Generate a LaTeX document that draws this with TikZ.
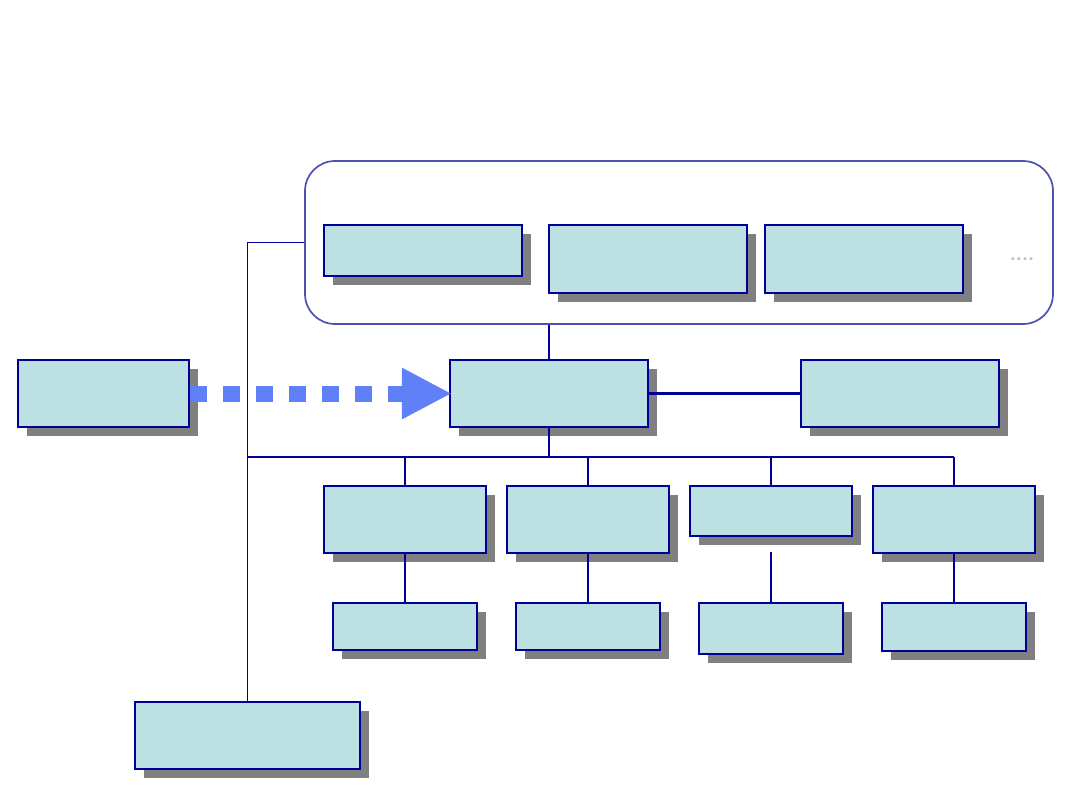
\documentclass[tikz,border=0pt]{standalone}
\usetikzlibrary{shadows,arrows.meta}
\definecolor{boxfill}{RGB}{189,225,227}
\definecolor{boxline}{RGB}{0,0,153}
\definecolor{shadowgray}{RGB}{128,128,128}
\definecolor{grpline}{RGB}{80,80,180}
\definecolor{arrowblue}{RGB}{96,128,248}
\definecolor{dotgray}{RGB}{190,190,190}
\tikzset{
  box/.style={draw=boxline, fill=boxfill, line width=1.25pt, inner sep=0pt, rectangle,
    drop shadow={shadow xshift=4.5pt, shadow yshift=-4.5pt, fill=shadowgray, opacity=1}},
  conn/.style={draw=boxline, line width=0.75pt},
  thickconn/.style={draw=boxline, line width=1.25pt},
  grp/.style={draw=grpline, line width=0.85pt, rounded corners=15pt, inner sep=0pt, rectangle},
  flow/.style={draw=arrowblue, line width=8pt, line cap=butt, dash pattern=on 8.25pt off 8.25pt,
    shorten >=-1.5pt, -{Triangle[length=25pt, width=24pt, fill=arrowblue]}}
}
\begin{document}
\begin{tikzpicture}[x=0.5pt, y=-0.5pt]
\useasboundingbox (0,0) rectangle (1080,810);
% group frame
\node[grp, minimum width=374pt, minimum height=81.5pt] (group) at (679,242.5) {};
% top row
\node[box, minimum width=99pt, minimum height=25.5pt] (A1) at (423,250.5) {};
\node[box, minimum width=99pt, minimum height=34pt] (A2) at (648,259) {};
\node[box, minimum width=99pt, minimum height=34pt] (A3) at (864,259) {};
\node[text=dotgray, font=\sffamily\bfseries, inner sep=0pt] (dots) at (1022,259) {....};
% middle row
\node[box, minimum width=85.5pt, minimum height=33.5pt] (L) at (103.5,393.5) {};
\node[box, minimum width=99pt, minimum height=33.5pt] (C) at (549,393.5) {};
\node[box, minimum width=99pt, minimum height=33.5pt] (R) at (900,393.5) {};
% third row
\node[box, minimum width=81pt, minimum height=33.5pt] (B1) at (405,519.5) {};
\node[box, minimum width=81pt, minimum height=33.5pt] (B2) at (588,519.5) {};
\node[box, minimum width=81pt, minimum height=25pt] (B3) at (771,511) {};
\node[box, minimum width=81pt, minimum height=33.5pt] (B4) at (954,519.5) {};
% fourth row
\node[box, minimum width=72pt, minimum height=23.5pt] (D1) at (405,626.5) {};
\node[box, minimum width=72pt, minimum height=23.5pt] (D2) at (588,626.5) {};
\node[box, minimum width=72pt, minimum height=25.5pt] (D3) at (771,628.5) {};
\node[box, minimum width=72pt, minimum height=24pt] (D4) at (954,627) {};
% bottom box
\node[box, minimum width=112.5pt, minimum height=33.5pt] (E) at (247.5,735.5) {};
% coordinates
\coordinate (bus) at (549,457);
\coordinate (b3gap) at (771,552);
% connectors
\draw[conn] (group.west) -| (E.north);
\draw[conn] (C.north) -- (C.north |- group.south);
\draw[conn] (C.south) -- (bus);
\draw[conn] (E.north |- bus) -- (B4.north |- bus);
\draw[conn] (B1.north) -- (B1.north |- bus);
\draw[conn] (B2.north) -- (B2.north |- bus);
\draw[conn] (B3.north) -- (B3.north |- bus);
\draw[conn] (B4.north) -- (B4.north |- bus);
\draw[conn] (B1.south) -- (D1.north);
\draw[conn] (B2.south) -- (D2.north);
\draw[conn] (b3gap) -- (D3.north);
\draw[conn] (B4.south) -- (D4.north);
\draw[thickconn] (C.east) -- (R.west);
% flow arrow
\draw[flow] (L.east) -- (C.west);
\end{tikzpicture}
\end{document}
